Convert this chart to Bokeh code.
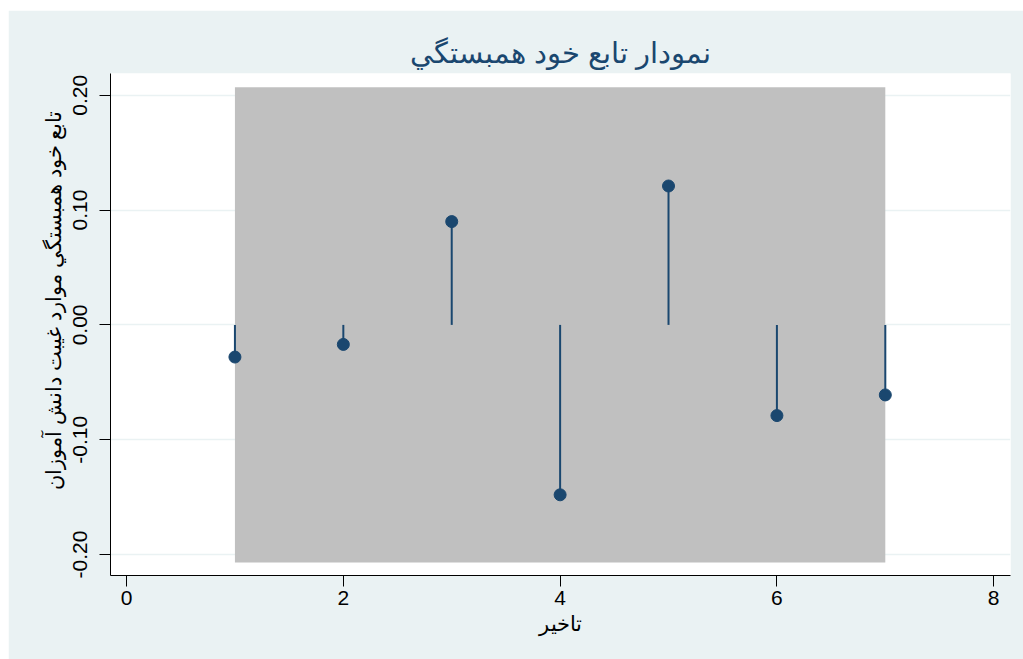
from bokeh.plotting import figure
from bokeh.models import FixedTicker, Range1d, Title
from bokeh.embed import file_html
from bokeh.resources import INLINE

# Data
lags = [1, 2, 3, 4, 5, 6, 7]
acf = [-0.028, -0.017, 0.090, -0.148, 0.121, -0.079, -0.061]
band_upper = [0.207, 0.207, 0.207, 0.207, 0.207, 0.207, 0.207]
band_lower = [-0.207, -0.207, -0.207, -0.207, -0.207, -0.207, -0.207]
x_ticks = [0, 2, 4, 6, 8]
y_ticks = [-0.2, -0.1, 0.0, 0.1, 0.2]
y_tick_labels = ["-0.20", "-0.10", "0.00", "0.10", "0.20"]

title_text = "نمودار تابع خود همبستگي"
y_title = "تابع خود همبستگي موارد غيبت دانش آموزان"
x_title = "تاخير"

BG = "#EAF2F3"
NAVY = "#1A476F"
FONT = "Liberation Sans"

p = figure(width=1015, height=649, output_backend="svg", toolbar_location=None,
           x_range=Range1d(-0.148, 8.155), y_range=Range1d(-0.2183, 0.219),
           min_border_left=102, min_border_right=13, min_border_top=63, min_border_bottom=84)
p.margin = (10, 0, 0, 8)

p.background_fill_color = "white"
p.border_fill_color = BG
p.outline_line_color = None

p.title.text = title_text
p.title.align = "center"
p.title.text_font = FONT
p.title.text_font_size = "29px"
p.title.text_font_style = "normal"
p.title.text_color = NAVY
p.title.offset = 0
p.title.standoff = 10

# band
p.varea(x=lags, y1=band_lower, y2=band_upper, fill_color="#C0C0C0", fill_alpha=1.0)

# stems and dots
p.segment(x0=lags, y0=[0] * len(lags), x1=lags, y1=acf, line_color=NAVY, line_width=2)
p.scatter(x=lags, y=acf, size=12, fill_color=NAVY, line_color=NAVY)

# grids
p.xgrid.visible = False
p.ygrid.grid_line_color = BG
p.ygrid.grid_line_width = 1.5
p.ygrid.level = "underlay"

# axes
p.xaxis.ticker = FixedTicker(ticks=x_ticks)
p.yaxis.ticker = FixedTicker(ticks=y_ticks)
p.yaxis.major_label_overrides = {t: l for t, l in zip(y_ticks, y_tick_labels)}
p.yaxis.major_label_orientation = "vertical"

for ax in (p.xaxis[0], p.yaxis[0]):
    ax.axis_line_color = "black"
    ax.axis_line_width = 1
    ax.major_tick_line_color = "black"
    ax.major_tick_in = 0
    ax.major_tick_out = 11
    ax.minor_tick_line_color = None
    ax.major_label_text_font = FONT
    ax.major_label_text_font_size = "21px"
    ax.major_label_text_color = "black"
    ax.axis_label_text_font = FONT
    ax.axis_label_text_font_size = "21px"
    ax.axis_label_text_font_style = "normal"
    ax.axis_label_text_color = "black"

p.xaxis.axis_label = x_title
p.xaxis.major_label_standoff = 4
p.xaxis.axis_label_standoff = 4
p.yaxis.major_label_standoff = 12

# y-axis title as a left-side title, anchored near the top as in the original
ytitle = Title(text=y_title, align="right", offset=37, standoff=12,
               text_font=FONT, text_font_size="21px", text_font_style="normal",
               text_color="black")
p.add_layout(ytitle, "left")

open("out.html", "w").write(file_html(p, INLINE))
